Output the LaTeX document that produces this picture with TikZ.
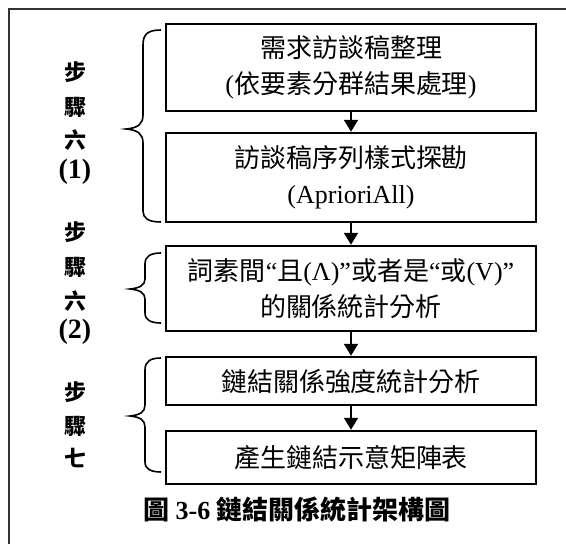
\documentclass[tikz,border=0pt]{standalone}
\usepackage{fontspec}
\setmainfont{Liberation Serif}
\newfontfamily\cjk{Noto Sans CJK TC}
\usetikzlibrary{arrows.meta}
\newcommand{\zh}[1]{{\cjk #1}}
\begin{document}
\begin{tikzpicture}[x=1pt,y=-1pt,
  box/.style={draw, line width=2.5pt, minimum width=370pt, align=center, inner sep=0pt,
    font=\fontsize{26}{36}\selectfont},
  flow/.style={line width=2pt, -{Triangle[width=14pt,length=12pt]}},
  lab/.style={font=\fontsize{22}{22}\selectfont\cjk\bfseries, inner sep=0pt},
  labn/.style={font=\fontsize{28}{28}\selectfont\bfseries, inner sep=0pt},
  brc/.style={line width=1.6pt}]
\useasboundingbox (0,0) rectangle (566,544);
\draw[line width=2pt, black!80] (8.5,544) -- (8.5,8.5) -- (566,8.5);
% boxes
\node[box, minimum height=87pt] (b1) at (351,67.5) {\zh{需求訪談稿整理}\\(\zh{依要素分群結果處理})};
\node[box, minimum height=89pt] (b2) at (351,177.5) {\zh{訪談稿序列樣式探勘}\\(AprioriAll)};
\node[box, minimum height=85pt] (b3) at (351,288.5) {\zh{詞素間}“\zh{且}(Λ)”\zh{或者是}“\zh{或}(V)”\\\zh{的關係統計分析}};
\node[box, minimum height=48pt] (b4) at (351,381) {\zh{鏈結關係強度統計分析}};
\node[box, minimum height=53pt] (b5) at (351,457.5) {\zh{產生鏈結示意矩陣表}};
\draw[flow] (b1) -- (b2);
\draw[flow] (b2) -- (b3);
\draw[flow] (b3) -- (b4);
\draw[flow] (b4) -- (b5);
% labels
\node[lab] (l1) at (75,72) {步};
\node[lab] (l2) at (75,107) {驟};
\node[lab] (l3) at (75,140) {六};
\node[labn] (l4) at (75,172) {(1)};
\node[lab] (l5) at (75,232) {步};
\node[lab] (l6) at (75,267) {驟};
\node[lab] (l7) at (75,301) {六};
\node[labn] (l8) at (75,332) {(2)};
\node[lab] (l9) at (75,392) {步};
\node[lab] (l10) at (75,426) {驟};
\node[lab] (l11) at (75,458) {七};
% braces
\draw[brc] (161,30) .. controls (148,30) and (143,34) .. (143,45) -- (143,115)
  .. controls (143,124) and (138,128) .. (126,129)
  .. controls (138,130) and (143,134) .. (143,143) -- (143,211)
  .. controls (143,218) and (148,222) .. (161,222);
\draw[brc] (161,253) .. controls (151,253) and (145,256) .. (145,264) -- (145,279)
  .. controls (145,285) and (140,288) .. (130,289)
  .. controls (140,290) and (145,293) .. (145,299) -- (145,313)
  .. controls (145,320) and (151,323) .. (161,323);
\draw[brc] (161,358) .. controls (151,358) and (145,361) .. (145,370) -- (145,405)
  .. controls (145,412) and (140,415) .. (130,416)
  .. controls (140,417) and (145,420) .. (145,427) -- (145,462)
  .. controls (145,469) and (151,472) .. (161,472);
% caption
\node[font=\fontsize{26}{26}\selectfont\bfseries, inner sep=0pt] (cap) at (297,510)
  {{\cjk\bfseries 圖} 3-6 {\cjk\bfseries 鏈結關係統計架構圖}};
\end{tikzpicture}
\end{document}
